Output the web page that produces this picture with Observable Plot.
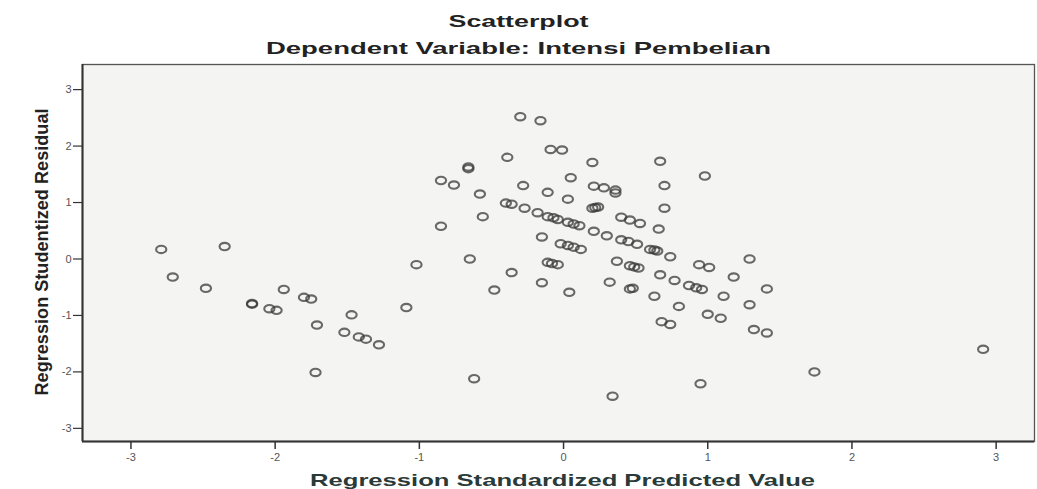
<!DOCTYPE html>
<html>
<head>
<meta charset="utf-8">
<script src="https://cdn.jsdelivr.net/npm/d3@7"></script>
<script src="https://cdn.jsdelivr.net/npm/@observablehq/plot@0.6"></script>
<style>
  html, body { margin: 0; padding: 0; background: #ffffff; }
  #chart svg { display: block; }
</style>
</head>
<body>
<div id="chart"></div>
<script>
// Regression Standardized Predicted Value (x) and Studentized Residual (y)
const predicted = [
  -2.79, -2.35, -2.71, -2.48, -1.94, -2.16, -2.16, -2.04, -1.99, -1.80,
  -1.75, -1.71, -1.47, -1.52, -1.42, -1.37, -1.28, -1.72, -1.09, -1.02,
  -0.85, -0.85, -0.76, -0.30, -0.16, -0.09, -0.01, -0.39, -0.66, -0.66,
  -0.58, -0.56, 0.20, 0.67, 0.98, 0.05, -0.28, -0.11, 0.03, 0.21,
  0.28, 0.36, 0.36, 0.70, 0.70, 0.22, 0.24, 0.20, -0.40, -0.36,
  -0.27, -0.18, -0.11, -0.07, -0.04, 0.03, 0.07, 0.11, 0.21, 0.30,
  0.40, 0.45, 0.51, 0.60, 0.63, 0.65, 0.74, 0.40, 0.46, 0.53,
  0.66, -0.15, -0.02, 0.03, 0.07, 0.12, -0.65, -0.36, -0.11, -0.04,
  -0.08, 0.37, 0.46, 0.52, 0.49, 0.67, 0.94, 1.01, 1.18, -0.48,
  -0.15, 0.04, 0.32, 0.46, 0.48, 0.63, 0.77, 0.87, 0.92, 0.96,
  0.80, 0.68, 0.74, 1.11, 1.00, 1.09, -0.62, 0.34, 0.95, 1.29,
  1.41, 1.29, 1.32, 1.41, 1.74, 2.91
];
const residual = [
  0.17, 0.22, -0.32, -0.52, -0.54, -0.79, -0.80, -0.88, -0.91, -0.68,
  -0.71, -1.17, -0.99, -1.30, -1.38, -1.42, -1.52, -2.01, -0.86, -0.10,
  0.58, 1.39, 1.31, 2.52, 2.45, 1.94, 1.93, 1.80, 1.63, 1.60,
  1.15, 0.75, 1.71, 1.73, 1.47, 1.44, 1.30, 1.18, 1.06, 1.29,
  1.26, 1.22, 1.17, 1.30, 0.90, 0.91, 0.92, 0.90, 0.99, 0.97,
  0.90, 0.82, 0.75, 0.73, 0.70, 0.65, 0.62, 0.59, 0.49, 0.41,
  0.34, 0.31, 0.26, 0.17, 0.16, 0.14, 0.04, 0.74, 0.69, 0.63,
  0.53, 0.39, 0.27, 0.24, 0.21, 0.17, 0.00, -0.24, -0.06, -0.10,
  -0.08, -0.04, -0.12, -0.16, -0.14, -0.28, -0.10, -0.15, -0.32, -0.55,
  -0.42, -0.59, -0.41, -0.53, -0.52, -0.66, -0.38, -0.47, -0.51, -0.54,
  -0.84, -1.11, -1.16, -0.66, -0.98, -1.05, -2.12, -2.43, -2.21, 0.00,
  -0.53, -0.81, -1.25, -1.31, -2.00, -1.60
];
const xTicks = [-3, -2, -1, 0, 1, 2, 3];
const yTicks = [-3, -2, -1, 0, 1, 2, 3];
const xDomain = [-3.336, 3.266];
const yDomain = [-3.233, 3.445];
const titleText = "Scatterplot";
const subtitleText = "Dependent Variable: Intensi Pembelian";
const xLabel = "Regression Standardized Predicted Value";
const yLabel = "Regression Studentized Residual";

const points = predicted.map((x, i) => ({x, y: residual[i]}));

// open ellipse marker (scan is horizontally stretched)
const ellipse = {
  draw(ctx) {
    const rx = 5.1, ry = 3.7, k = 0.5523;
    ctx.moveTo(rx, 0);
    ctx.bezierCurveTo(rx, ry * k, rx * k, ry, 0, ry);
    ctx.bezierCurveTo(-rx * k, ry, -rx, ry * k, -rx, 0);
    ctx.bezierCurveTo(-rx, -ry * k, -rx * k, -ry, 0, -ry);
    ctx.bezierCurveTo(rx * k, -ry, rx, -ry * k, rx, 0);
    ctx.closePath();
  }
};

const chart = Plot.plot({
  width: 1037,
  height: 489,
  marginTop: 64,
  marginBottom: 48,
  marginLeft: 82,
  marginRight: 3,
  style: {fontFamily: "'Liberation Sans', Arial, sans-serif", background: "#ffffff"},
  x: {domain: xDomain},
  y: {domain: yDomain},
  marks: [
    Plot.frame({fill: "#f4f4f2", stroke: "#555", strokeWidth: 1.3}),
    Plot.ruleX([xDomain[0]], {stroke: "#333", strokeWidth: 2}),
    Plot.ruleY([yDomain[0]], {stroke: "#333", strokeWidth: 2}),
    Plot.axisX({ticks: xTicks, tickSize: 8, tickPadding: 4, fontSize: 11, stroke: "#333", fill: "#555", strokeWidth: 1.5, label: null, tickFormat: d => String(d)}),
    Plot.axisY({ticks: yTicks, tickSize: 9, tickPadding: 2, fontSize: 11, stroke: "#333", fill: "#555", strokeWidth: 1.2, label: null, tickFormat: d => String(d)}),
    Plot.dot(points, {x: "x", y: "y", symbol: ellipse, r: 4, fill: "none", stroke: "#3a3a3a", strokeWidth: 2.1, strokeOpacity: 0.75}),
    Plot.text([titleText], {text: d => d, frameAnchor: "top", textAnchor: "middle", dx: -40, dy: -43, lineAnchor: "middle", fontSize: 16, fontWeight: "bold", fill: "#222"}),
    Plot.text([subtitleText], {text: d => d, frameAnchor: "top", textAnchor: "middle", dx: -40, dy: -16, lineAnchor: "middle", fontSize: 17, fontWeight: "bold", fill: "#222"}),
    Plot.text([xLabel], {text: d => d, frameAnchor: "bottom", textAnchor: "middle", dx: 4, dy: 39, lineAnchor: "middle", fontSize: 17, fontWeight: "bold", fill: "#2a3a38"}),
    Plot.text([yLabel], {text: d => d, frameAnchor: "left", textAnchor: "middle", rotate: -90, dx: -40, dy: -1, lineAnchor: "middle", fontSize: 18, fontWeight: "bold", fill: "#222"})
  ]
});

// stretch the texts to the widths of the (horizontally stretched) scan
const lengths = new Map([[titleText, 140], [subtitleText, 505], [xLabel, 505], [yLabel, 287]]);
chart.querySelectorAll("text").forEach(t => {
  const len = lengths.get(t.textContent);
  if (len) {
    t.setAttribute("textLength", len);
    t.setAttribute("lengthAdjust", "spacingAndGlyphs");
  }
});

document.getElementById("chart").appendChild(chart);
</script>
</body>
</html>
